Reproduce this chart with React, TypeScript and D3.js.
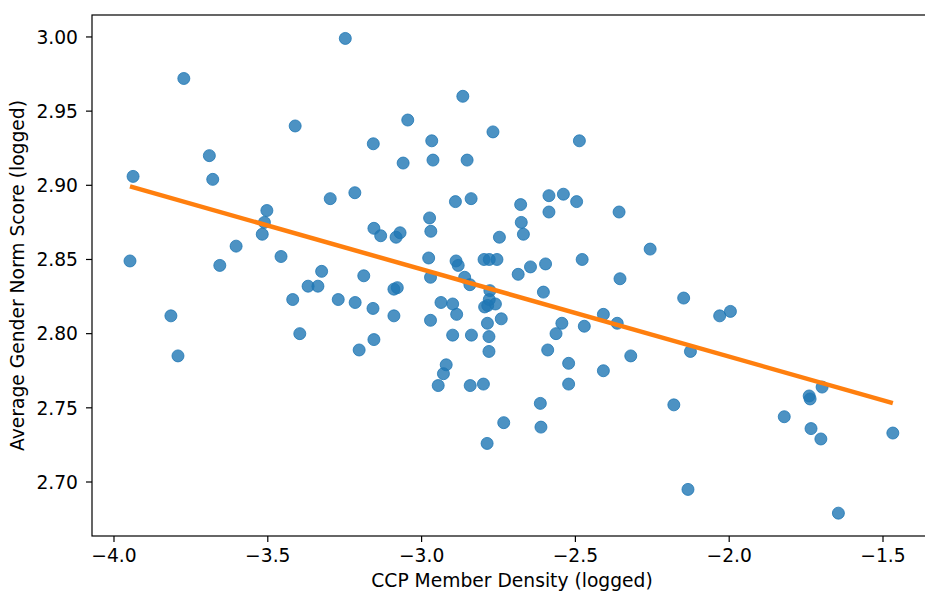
import React from 'react';
import * as d3 from 'd3';

// CCP member density (logged) per point
const memberDensity = [
  -3.248, -3.773, -3.411, -3.690, -3.157, -3.938, -3.679, -3.217, -3.297, -3.503,
  -3.511, -3.518, -3.155, -3.603, -3.948, -3.656, -3.457, -3.325, -3.188, -3.369,
  -3.337, -3.419, -3.271, -3.216, -3.158, -3.815, -3.396, -3.155, -3.203, -3.792,
  -2.866, -3.045, -2.768, -2.967, -2.487, -3.060, -2.963, -2.852, -2.890, -2.839,
  -2.678, -2.586, -2.539, -2.496, -2.586, -2.358, -2.974, -2.676, -2.970, -2.669,
  -2.747, -3.133, -3.083, -3.070, -2.257, -2.977, -2.888, -2.881, -2.797, -2.780,
  -2.755, -2.686, -2.646, -2.597, -2.478, -2.355, -2.971, -2.860, -2.843, -3.090,
  -3.079, -2.778, -2.604, -2.937, -2.899, -2.886, -2.795, -2.785, -2.780, -2.760,
  -3.090, -2.971, -2.741, -2.786, -2.409, -2.364, -2.544, -2.471, -2.563, -2.899,
  -2.838, -2.781, -2.590, -2.781, -2.320, -2.522, -2.920, -2.929, -2.409, -2.946,
  -2.842, -2.799, -2.522, -2.614, -2.733, -2.612, -2.787, -2.148, -2.031, -1.996,
  -2.126, -2.180, -1.698, -1.740, -1.737, -1.821, -1.734, -1.702, -1.468, -2.134,
  -1.645,
];

// average gender norm score (logged), same order
const normScore = [
  2.999, 2.972, 2.940, 2.920, 2.928, 2.906, 2.904, 2.895, 2.891, 2.883,
  2.875, 2.867, 2.871, 2.859, 2.849, 2.846, 2.852, 2.842, 2.839, 2.832,
  2.832, 2.823, 2.823, 2.821, 2.817, 2.812, 2.800, 2.796, 2.789, 2.785,
  2.960, 2.944, 2.936, 2.930, 2.930, 2.915, 2.917, 2.917, 2.889, 2.891,
  2.887, 2.893, 2.894, 2.889, 2.882, 2.882, 2.878, 2.875, 2.869, 2.867,
  2.865, 2.866, 2.865, 2.868, 2.857, 2.851, 2.849, 2.846, 2.850, 2.850,
  2.850, 2.840, 2.845, 2.847, 2.850, 2.837, 2.838, 2.838, 2.833, 2.830,
  2.831, 2.829, 2.828, 2.821, 2.820, 2.813, 2.818, 2.819, 2.823, 2.820,
  2.812, 2.809, 2.810, 2.807, 2.813, 2.807, 2.807, 2.805, 2.800, 2.799,
  2.799, 2.798, 2.789, 2.788, 2.785, 2.780, 2.779, 2.773, 2.775, 2.765,
  2.765, 2.766, 2.766, 2.753, 2.740, 2.737, 2.726, 2.824, 2.812, 2.815,
  2.788, 2.752, 2.764, 2.758, 2.756, 2.744, 2.736, 2.729, 2.733, 2.695,
  2.679,
];

// fitted line y = intercept + slope * x
const fitSlope = -0.0589;
const fitIntercept = 2.6667;

const xTicks = [-4.0, -3.5, -3.0, -2.5, -2.0, -1.5];
const yTicks = [2.70, 2.75, 2.80, 2.85, 2.90, 2.95, 3.00];

const W = 925;
const H = 595;
const left = 92, right = 932, top = 15, bottom = 536;
const FONT = 'DejaVu Sans, sans-serif';
const FS = 18.7;

export default function App() {
  const x = d3.scaleLinear().domain([-4.0715, -1.3407]).range([left, right]);
  const y = d3.scaleLinear().domain([2.6636, 3.0148]).range([bottom, top]);

  const points = memberDensity.map((d, i) => ({ x: d, y: normScore[i] }));
  const [xMin, xMax] = d3.extent(memberDensity) as [number, number];
  const fitLine = d3.line<number>()
    .x(d => x(d))
    .y(d => y(fitIntercept + fitSlope * d));

  const fmtX = (v: number) => v.toFixed(1).replace('-', '\u2212');

  return (
    <svg width={W} height={H} style={{ position: 'absolute', left: 0, top: 0, background: '#fff' }}
      fontFamily={FONT}>
      <g>
        {points.map((p, i) => (
          <circle key={i} cx={x(p.x)} cy={y(p.y)} r={6}
            fill="#1f77b4" fillOpacity={0.8} stroke="#1f77b4" strokeOpacity={0.8} strokeWidth={1} />
        ))}
      </g>
      <path d={fitLine([xMin, xMax]) || ''} fill="none" stroke="#ff7f0e" strokeWidth={4.5} />

      {/* frame */}
      <rect x={left} y={top} width={right - left} height={bottom - top}
        fill="none" stroke="#000" strokeWidth={1.2} />

      {/* x axis */}
      {xTicks.map(t => (
        <g key={t}>
          <line x1={x(t)} x2={x(t)} y1={bottom} y2={bottom + 6} stroke="#000" strokeWidth={1.2} />
          <text x={x(t)} y={562} textAnchor="middle" fontSize={FS} fill="#000">{fmtX(t)}</text>
        </g>
      ))}
      <text x={(left + right) / 2} y={587} textAnchor="middle" fontSize={FS} fill="#000">
        CCP Member Density (logged)
      </text>

      {/* y axis */}
      {yTicks.map(t => (
        <g key={t}>
          <line x1={left - 6} x2={left} y1={y(t)} y2={y(t)} stroke="#000" strokeWidth={1.2} />
          <text x={78} y={y(t)} dy="0.36em" textAnchor="end" fontSize={FS} fill="#000">{t.toFixed(2)}</text>
        </g>
      ))}
      <text transform={`translate(24,${(top + bottom) / 2}) rotate(-90)`} textAnchor="middle"
        fontSize={FS} fill="#000">
        Average Gender Norm Score (logged)
      </text>
    </svg>
  );
}
